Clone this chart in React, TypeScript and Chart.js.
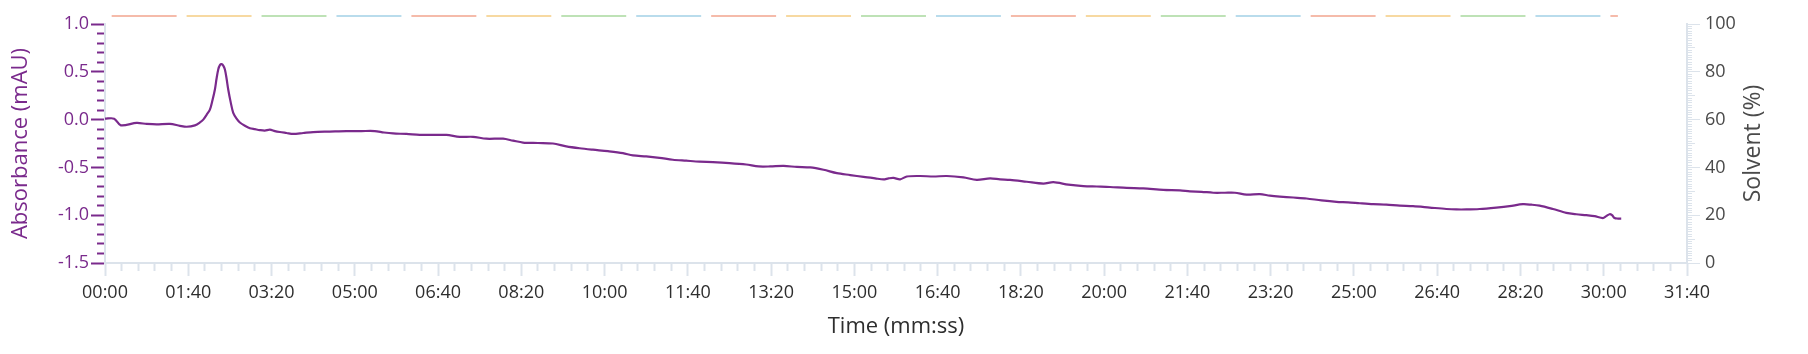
import React, { useEffect, useRef } from 'react';
import { Chart, registerables } from 'chart.js';

Chart.register(...registerables);

// ---- data ----
const timeSec = [
  0, 11, 19, 38, 50, 62, 78, 90, 98, 108, 114, 118, 122, 126, 129, 132, 134, 136, 138, 140,
  142, 144, 146, 148, 151, 154, 158, 162, 168, 174, 180, 186, 192, 198, 204, 210, 218, 226, 238, 250,
  270, 290, 308, 324, 335, 346, 362, 378, 394, 410, 426, 442, 458, 478, 490, 502, 520, 538, 554, 570,
  586, 604, 622, 634, 650, 666, 682, 698, 714, 730, 750, 770, 785, 799, 815, 831, 847, 863, 879, 895,
  911, 925, 935, 941, 947, 955, 963, 979, 995, 1011, 1031, 1047, 1063, 1075, 1087, 1107, 1127, 1139, 1157, 1175,
  1191, 1207, 1227, 1247, 1271, 1291, 1303, 1317, 1331, 1345, 1357, 1371, 1387, 1399, 1411, 1427, 1443, 1461, 1479, 1493,
  1507, 1523, 1539, 1555, 1571, 1591, 1611, 1623, 1635, 1651, 1671, 1687, 1703, 1713, 1723, 1739, 1755, 1767, 1779, 1789,
  1799, 1803, 1807, 1810, 1813, 1817, 1821,
];
const absorbance = [
  0.01, 0.01, -0.06, -0.035, -0.045, -0.05, -0.045, -0.065, -0.075, -0.06, -0.03, 0.0, 0.05, 0.105, 0.2, 0.315, 0.43, 0.525, 0.57, 0.58,
  0.565, 0.525, 0.43, 0.315, 0.18, 0.07, 0.01, -0.03, -0.065, -0.09, -0.1, -0.11, -0.115, -0.105, -0.12, -0.13, -0.14, -0.15, -0.14, -0.13,
  -0.125, -0.12, -0.12, -0.12, -0.135, -0.145, -0.15, -0.16, -0.16, -0.16, -0.18, -0.18, -0.2, -0.2, -0.22, -0.24, -0.245, -0.25, -0.28, -0.3,
  -0.315, -0.33, -0.35, -0.375, -0.385, -0.4, -0.42, -0.43, -0.44, -0.445, -0.455, -0.47, -0.49, -0.49, -0.485, -0.495, -0.5, -0.525, -0.56, -0.58,
  -0.6, -0.615, -0.625, -0.615, -0.61, -0.625, -0.595, -0.59, -0.595, -0.59, -0.605, -0.63, -0.615, -0.625, -0.63, -0.65, -0.67, -0.655, -0.68, -0.695,
  -0.7, -0.705, -0.715, -0.72, -0.735, -0.74, -0.75, -0.755, -0.765, -0.765, -0.765, -0.785, -0.78, -0.795, -0.805, -0.815, -0.825, -0.845, -0.86, -0.865,
  -0.875, -0.885, -0.89, -0.9, -0.905, -0.92, -0.935, -0.94, -0.94, -0.935, -0.92, -0.905, -0.885, -0.89, -0.9, -0.935, -0.975, -0.99, -1.0, -1.01,
  -1.03, -1.01, -0.99, -1.0, -1.03, -1.035, -1.035,
];

// fractions (seconds)
const fractionStarts = [0, 90, 180, 270, 360, 450, 540, 630, 720, 810, 900, 990, 1080, 1170, 1260, 1350, 1440, 1530, 1620, 1710, 1800];
const fractionEnds = [90, 180, 270, 360, 450, 540, 630, 720, 810, 900, 990, 1080, 1170, 1260, 1350, 1440, 1530, 1620, 1710, 1800, 1821];
const fractionColors = ['#f2a48e', '#f5cd82', '#a9d89e', '#a2d0e6'];
const fractionLevel = 103.35; // solvent-axis value the fraction bar is drawn at

// axes
const timeMin = 0;
const timeMax = 1900;
const timeMajorStep = 100;
const timeMinorStep = 20;
const absMin = -1.5;
const absMax = 1.0;
const absMajorStep = 0.5;
const absMinorStep = 0.1;
const solventMin = 0;
const solventMax = 100;
const solventMajorStep = 20;
const solventMidStep = 10;
const solventMinorStep = 1;

const xTitle = 'Time (mm:ss)';
const yTitle = 'Absorbance (mAU)';
const y2Title = 'Solvent (%)';

const PURPLE = '#7a2a8c';
const AXIS_GRAY = '#dce3eb';
const TEXT_GRAY = '#4a4a4a';
const FONT = '"Open Sans", "Noto Sans", sans-serif';

const fmtTime = (v: number) => {
  const m = Math.floor(v / 60);
  const s = Math.round(v - m * 60);
  return `${String(m).padStart(2, '0')}:${String(s).padStart(2, '0')}`;
};

const rightTitlePlugin = {
  id: 'rightTitle',
  afterDraw(chart: any) {
    const s = chart.scales.y2;
    const ctx = chart.ctx;
    ctx.save();
    ctx.translate(s.right - 55, (chart.chartArea.top + chart.chartArea.bottom) / 2);
    ctx.rotate(-Math.PI / 2);
    ctx.font = `23px ${FONT}`;
    ctx.fillStyle = TEXT_GRAY;
    ctx.textAlign = 'center';
    ctx.textBaseline = 'middle';
    ctx.fillText(y2Title, 0, 0);
    ctx.restore();
  },
};

export default function App() {
  const ref = useRef<HTMLCanvasElement | null>(null);

  useEffect(() => {
    if (!ref.current) return;
    Chart.defaults.font.family = FONT;

    const absPoints = timeSec.map((t, i) => ({ x: t, y: absorbance[i] }));
    const fracPoints: { x: number; y: number | null }[] = [];
    fractionStarts.forEach((s, i) => {
      fracPoints.push({ x: s + 8, y: fractionLevel });
      fracPoints.push({ x: fractionEnds[i] - 4, y: fractionLevel });
      fracPoints.push({ x: fractionEnds[i], y: null });
    });

    const chart = new Chart(ref.current, {
      type: 'line',
      data: {
        datasets: [
          {
            label: 'Absorbance',
            data: absPoints,
            xAxisID: 'x',
            yAxisID: 'y',
            borderColor: PURPLE,
            borderWidth: 2.2,
            pointRadius: 0,
            tension: 0.3,
          },
          {
            label: 'Fractions',
            data: fracPoints as any,
            xAxisID: 'x',
            yAxisID: 'y2',
            borderWidth: 1.5,
            pointRadius: 0,
            spanGaps: false,
            clip: false as any,
            borderColor: fractionColors[0],
            segment: {
              borderColor: (ctx: any) => fractionColors[Math.floor(ctx.p0DataIndex / 3) % fractionColors.length],
            },
          },
        ],
      },
      options: {
        animation: false,
        responsive: true,
        maintainAspectRatio: false,
        layout: { padding: { top: 24, left: 0, right: 0, bottom: 0 } },
        plugins: { legend: { display: false }, tooltip: { enabled: false } },
        scales: {
          xMinor: {
            type: 'linear',
            axis: 'x',
            position: 'bottom',
            weight: 0,
            min: timeMin,
            max: timeMax,
            ticks: { display: false, stepSize: timeMinorStep },
            grid: { display: true, drawOnChartArea: false, drawTicks: true, tickLength: 8, tickColor: AXIS_GRAY, tickWidth: 2 },
            border: { display: true, color: AXIS_GRAY, width: 2 },
            afterFit: (s: any) => { s.height = 8; },
          },
          x: {
            type: 'linear',
            position: 'bottom',
            weight: 1,
            min: timeMin,
            max: timeMax,
            ticks: {
              stepSize: timeMajorStep,
              autoSkip: false,
              maxRotation: 0,
              padding: 6,
              color: '#2e2e2e',
              font: { size: 18 },
              callback: (v: any) => fmtTime(Number(v)),
            },
            grid: { display: true, drawOnChartArea: false, drawTicks: true, tickLength: 5, tickColor: AXIS_GRAY, tickWidth: 2 },
            border: { display: false },
            title: { display: true, text: xTitle, color: '#2e2e2e', font: { size: 22 }, padding: { top: 0, bottom: 14 } },
            afterFit: (s: any) => { s.height = 83; },
          },
          yMinor: {
            type: 'linear',
            axis: 'y',
            position: 'left',
            weight: 0,
            min: absMin,
            max: absMax,
            ticks: { display: false, stepSize: absMinorStep },
            grid: { display: true, drawOnChartArea: false, drawTicks: true, tickLength: 8, tickColor: PURPLE, tickWidth: 2 },
            border: { display: true, color: AXIS_GRAY, width: 2 },
            afterFit: (s: any) => { s.width = 8; },
          },
          y: {
            type: 'linear',
            position: 'left',
            weight: 1,
            min: absMin,
            max: absMax,
            ticks: {
              stepSize: absMajorStep,
              padding: 2,
              color: PURPLE,
              font: { size: 18 },
              callback: (v: any) => Number(v).toFixed(1),
            },
            grid: { display: true, drawOnChartArea: false, drawTicks: true, tickLength: 6, tickColor: PURPLE, tickWidth: 2 },
            border: { display: false },
            title: { display: true, text: yTitle, color: PURPLE, font: { size: 22 }, padding: { top: 8, bottom: 0 } },
            afterFit: (s: any) => { s.width = 97; },
          },
          y2Minor: {
            type: 'linear',
            axis: 'y',
            position: 'right',
            weight: 0,
            min: solventMin,
            max: solventMax,
            ticks: { display: false, stepSize: solventMinorStep },
            grid: { display: true, drawOnChartArea: false, drawTicks: true, tickLength: 5, tickColor: AXIS_GRAY, tickWidth: 1 },
            border: { display: true, color: AXIS_GRAY, width: 2 },
            afterFit: (s: any) => { s.width = 5; },
          },
          y2Mid: {
            type: 'linear',
            axis: 'y',
            position: 'right',
            weight: 1,
            min: solventMin,
            max: solventMax,
            ticks: { display: false, stepSize: solventMidStep },
            grid: { display: true, drawOnChartArea: false, drawTicks: true, tickLength: 3, tickColor: AXIS_GRAY, tickWidth: 1 },
            border: { display: false },
            afterFit: (s: any) => { s.width = 3; },
          },
          y2: {
            type: 'linear',
            axis: 'y',
            position: 'right',
            weight: 2,
            min: solventMin,
            max: solventMax,
            ticks: { stepSize: solventMajorStep, padding: 5, color: TEXT_GRAY, font: { size: 18 } },
            grid: { display: true, drawOnChartArea: false, drawTicks: true, tickLength: 5, tickColor: AXIS_GRAY, tickWidth: 1 },
            border: { display: false },
            afterFit: (s: any) => { s.width = 113; },
          },
        },
      } as any,
      plugins: [rightTitlePlugin],
    });

    return () => chart.destroy();
  }, []);

  return (
    <div style={{ position: 'absolute', left: 0, top: 0, width: 1808, height: 354, background: '#ffffff' }}>
      <canvas ref={ref} />
    </div>
  );
}
